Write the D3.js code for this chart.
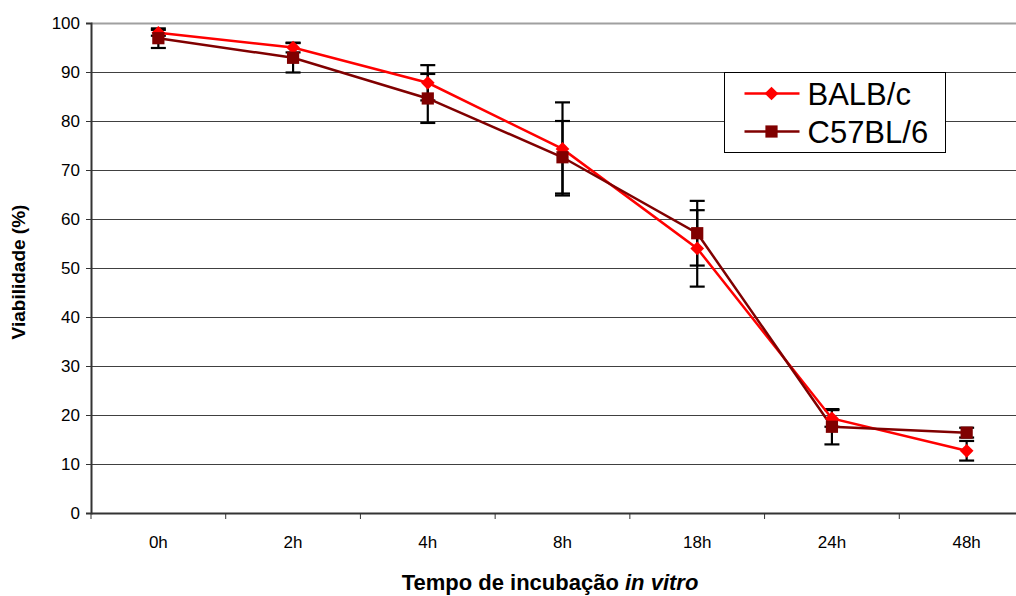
<!DOCTYPE html>
<html>
<head>
<meta charset="utf-8">
<script src="https://cdn.jsdelivr.net/npm/d3@7/dist/d3.min.js"></script>
<style>
  body { margin: 0; background: #fff; }
  svg { display: block; font-family: "Liberation Sans", Arial, sans-serif; }
</style>
</head>
<body>
<svg id="chart" width="1016" height="596"></svg>
<script>
// chart data
var categories = ["0h", "2h", "4h", "8h", "18h", "24h", "48h"];
var balbValues = [98.0, 95.0, 87.8, 74.3, 54.0, 19.3, 12.7];
var balbErrors = [0.6, 1.0, 3.6, 9.5, 7.8, 1.7, 2.0];
var c57Values = [96.9, 92.9, 84.6, 72.6, 57.1, 17.6, 16.4];
var c57Errors = [2.0, 3.0, 5.0, 7.4, 6.6, 3.6, 1.0];
var yTicks = [0, 10, 20, 30, 40, 50, 60, 70, 80, 90, 100];

var series = [
    {name: "BALB/c", values: balbValues, errors: balbErrors, color: "#ff0000", symbol: d3.symbolDiamond2, size: 120},
    {name: "C57BL/6", values: c57Values, errors: c57Errors, color: "#800000", symbol: d3.symbolSquare2, size: 190}
];

var svg = d3.select("#chart");

// plot area (right part runs past the picture edge, like the original)
var plotLeft = 91, plotRight = 1034, plotTop = 23, plotBottom = 513;

var x = d3.scaleBand().domain(categories).range([plotLeft, plotRight]);
var y = d3.scaleLinear().domain([0, 100]).range([plotBottom, plotTop]);

function cx(i) {
    return x(categories[i]) + x.bandwidth() / 2;
}

// grid lines
svg.append("g").selectAll("line")
    .data(yTicks.filter(function (d) { return d > 0; }))
    .enter().append("line")
    .attr("x1", plotLeft).attr("x2", plotRight)
    .attr("y1", function (d) { return Math.round(y(d)) + 0.5; })
    .attr("y2", function (d) { return Math.round(y(d)) + 0.5; })
    .attr("stroke", function (d) { return d === 100 ? "#a0a0a0" : "#404040"; })
    .attr("stroke-width", function (d) { return d === 100 ? 2 : 1; });

// y axis
var yAxis = svg.append("g")
    .attr("transform", "translate(" + plotLeft + ",0)")
    .call(d3.axisLeft(y).tickValues(yTicks).tickSize(5).tickPadding(6));
yAxis.select(".domain").attr("stroke", "#333").attr("stroke-width", 2);
yAxis.selectAll(".tick line").attr("stroke", "#333");
yAxis.selectAll("text")
    .style("font-family", "'Liberation Sans', Arial, sans-serif")
    .style("font-size", "17px").attr("fill", "#000");

// x axis: ticks between categories
var xAxis = svg.append("g")
    .attr("transform", "translate(0," + plotBottom + ")")
    .call(d3.axisBottom(x).tickSize(0).tickPadding(23));
xAxis.select(".domain").attr("stroke", "#333").attr("stroke-width", 2);
xAxis.selectAll("text")
    .style("font-family", "'Liberation Sans', Arial, sans-serif")
    .style("font-size", "17px").attr("fill", "#000");
xAxis.selectAll(".sep")
    .data(categories)
    .enter().append("line")
    .attr("class", "sep")
    .attr("x1", function (d) { return x(d); })
    .attr("x2", function (d) { return x(d); })
    .attr("y1", 0).attr("y2", 6)
    .attr("stroke", "#333");

// error bars
series.forEach(function (s) {
    var g = svg.append("g").attr("stroke", "#000").attr("stroke-width", 2.2);
    s.values.forEach(function (v, i) {
        var e = s.errors[i];
        var px = cx(i);
        g.append("line").attr("x1", px).attr("x2", px)
            .attr("y1", y(v + e)).attr("y2", y(v - e));
        [v + e, v - e].forEach(function (t) {
            g.append("line").attr("x1", px - 7.5).attr("x2", px + 7.5)
                .attr("y1", y(t)).attr("y2", y(t));
        });
    });
});

// lines
var line = d3.line()
    .x(function (d, i) { return cx(i); })
    .y(function (d) { return y(d); });

series.forEach(function (s) {
    svg.append("path")
        .datum(s.values)
        .attr("d", line)
        .attr("fill", "none")
        .attr("stroke", s.color)
        .attr("stroke-width", 2.5);
});

// markers
series.forEach(function (s) {
    svg.append("g").selectAll("path")
        .data(s.values)
        .enter().append("path")
        .attr("d", d3.symbol().type(s.symbol).size(s.size))
        .attr("transform", function (d, i) {
            return "translate(" + cx(i) + "," + y(d) + ")";
        })
        .attr("fill", s.color);
});

// legend
var legend = svg.append("g").attr("transform", "translate(724.5,72.5)");
legend.append("rect")
    .attr("width", 221).attr("height", 80)
    .attr("fill", "#fff").attr("stroke", "#000").attr("stroke-width", 1);
var item = legend.selectAll(".item")
    .data(series)
    .enter().append("g")
    .attr("class", "item")
    .attr("transform", function (d, i) { return "translate(0," + (21 + i * 38) + ")"; });
item.append("line")
    .attr("x1", 20).attr("x2", 75)
    .attr("stroke", function (d) { return d.color; })
    .attr("stroke-width", 2.5);
item.append("path")
    .attr("d", function (d) {
        return d3.symbol().type(d.symbol).size(d.size)();
    })
    .attr("transform", "translate(47,0)")
    .attr("fill", function (d) { return d.color; });
item.append("text")
    .attr("x", 83).attr("dy", "0.36em")
    .style("font-size", "31px")
    .text(function (d) { return d.name; });

// axis titles
svg.append("text")
    .attr("transform", "translate(25,272) rotate(-90)")
    .attr("text-anchor", "middle")
    .style("font-size", "19px").style("font-weight", "bold")
    .text("Viabilidade (%)");

var xt = svg.append("text")
    .attr("x", 550).attr("y", 590)
    .attr("text-anchor", "middle")
    .style("font-size", "22px").style("font-weight", "bold");
xt.append("tspan").text("Tempo de incubação ");
xt.append("tspan").style("font-style", "italic").text("in vitro");
</script>
</body>
</html>
